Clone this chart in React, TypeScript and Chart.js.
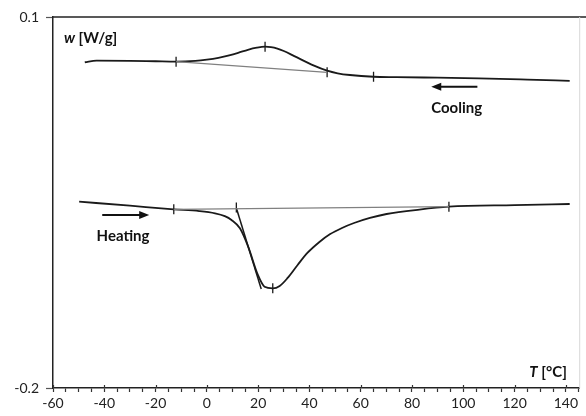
import React, { useEffect, useRef } from 'react';
import { Chart, registerables } from 'chart.js';
Chart.register(...registerables);

// Cooling curve (upper)
const coolingT = [-47.6, -43, -30, -20, -12, -4.5, 0, 4.5, 8.3, 12.2, 16, 19.5, 22.7, 25, 27.5, 30, 34.1, 41.8, 46.9, 51, 55.8, 65.0, 74.0, 90, 106, 125, 141.5];
const coolingW = [0.0634, 0.0647, 0.0646, 0.0642, 0.0639, 0.0645, 0.0655, 0.0670, 0.0688, 0.0710, 0.0735, 0.0752, 0.0760, 0.0757, 0.0745, 0.0725, 0.0684, 0.0607, 0.0566, 0.0545, 0.0531, 0.0517, 0.0514, 0.0509, 0.0504, 0.0494, 0.0484];
// Cooling baseline (grey)
const coolBaseT = [-12.0, 46.9];
const coolBaseW = [0.0639, 0.0552];

// Heating curve (lower)
const heatingT = [-49.8, -30, -12.9, -3, 3.2, 7, 9.6, 12.9, 16.1, 19.9, 22.5, 25.7, 28.4, 31.5, 35.4, 39.2, 43.9, 48.1, 52.7, 57.4, 63.6, 70.1, 82.9, 94.4, 120, 141.5];
const heatingW = [-0.0493, -0.0526, -0.0555, -0.0569, -0.0587, -0.0610, -0.0641, -0.0709, -0.0857, -0.1086, -0.1181, -0.1194, -0.1175, -0.1110, -0.1005, -0.0908, -0.0819, -0.0755, -0.0706, -0.0666, -0.0625, -0.0593, -0.0557, -0.0534, -0.0521, -0.0512];
// Heating baseline (grey)
const heatBaseT = [-12.9, 94.4];
const heatBaseW = [-0.0555, -0.0533];
// Onset tangent
const tangentT = [11.5, 21.2];
const tangentW = [-0.0545, -0.1199];

// Characteristic-point markers
const markT = [-12.0, 22.7, 46.9, 65.0, -12.9, 11.5, 25.7, 94.4];
const markW = [0.0639, 0.0760, 0.0553, 0.0517, -0.0555, -0.0540, -0.1194, -0.0534];

// Axis ticks
const xTickValues = [-60, -40, -20, 0, 20, 40, 60, 80, 100, 120, 140];
const xMinorStep = 5;
const xMinorLast = 145;
const yTickValues = [-0.2, 0.1];

// Annotations
const coolArrow = [105.5, 87.5, 0.0436]; // tail x, head x, y
const heatArrow = [-40.8, -22.5, -0.0601];
const coolLabel = ['Cooling', 87.5, 0.0264];
const heatLabel = ['Heating', -43.0, -0.0771];
const yTitlePos = [-55.75, 0.083];
const xTitlePos = [140.4, -0.1871];

const FONT = 'Lato, "Open Sans", sans-serif';

const pts = (xs: number[], ys: number[]) => xs.map((x, i) => ({ x, y: ys[i] }));

const annotate = {
  id: 'annotate',
  afterDraw(chart: any) {
    const { ctx, chartArea, scales } = chart;
    const xs = scales.x, ys = scales.y;
    ctx.save();
    // frame: top dark, right faint
    ctx.strokeStyle = '#222';
    ctx.lineWidth = 1.5;
    ctx.beginPath();
    ctx.moveTo(chartArea.left, chartArea.top);
    ctx.lineTo(chart.width, chartArea.top);
    ctx.stroke();
    ctx.strokeStyle = '#d8d8d8';
    ctx.lineWidth = 1;
    ctx.beginPath();
    ctx.moveTo(chartArea.right, chartArea.top);
    ctx.lineTo(chartArea.right, chartArea.bottom);
    ctx.stroke();
    // major ticks crossing the x axis
    ctx.strokeStyle = '#333';
    ctx.lineWidth = 1.2;
    xTickValues.forEach((v) => {
      const px = Math.round(xs.getPixelForValue(v)) + 0.5;
      ctx.beginPath();
      ctx.moveTo(px, chartArea.bottom - 3);
      ctx.lineTo(px, chartArea.bottom);
      ctx.stroke();
    });
    // arrows
    const arrow = (a: number[]) => {
      const x1 = xs.getPixelForValue(a[0]);
      const x2 = xs.getPixelForValue(a[1]);
      const y = ys.getPixelForValue(a[2]);
      const dir = x2 > x1 ? 1 : -1;
      ctx.strokeStyle = '#111';
      ctx.fillStyle = '#111';
      ctx.lineWidth = 1.8;
      ctx.beginPath();
      ctx.moveTo(x1, y);
      ctx.lineTo(x2 - dir * 8, y);
      ctx.stroke();
      ctx.beginPath();
      ctx.moveTo(x2, y);
      ctx.lineTo(x2 - dir * 10, y - 4);
      ctx.lineTo(x2 - dir * 10, y + 4);
      ctx.closePath();
      ctx.fill();
    };
    arrow(coolArrow as number[]);
    arrow(heatArrow as number[]);
    // labels
    ctx.fillStyle = '#111';
    ctx.textBaseline = 'middle';
    ctx.textAlign = 'left';
    ctx.font = `bold 15px ${FONT}`;
    ctx.fillText(coolLabel[0] as string, xs.getPixelForValue(coolLabel[1] as number), ys.getPixelForValue(coolLabel[2] as number));
    ctx.fillText(heatLabel[0] as string, xs.getPixelForValue(heatLabel[1] as number), ys.getPixelForValue(heatLabel[2] as number));
    // y title: w [W/g]
    let tx = xs.getPixelForValue(yTitlePos[0]);
    const ty = ys.getPixelForValue(yTitlePos[1]);
    ctx.font = `italic bold 15px ${FONT}`;
    ctx.fillText('w', tx, ty);
    tx += ctx.measureText('w').width;
    ctx.font = `bold 15px ${FONT}`;
    ctx.fillText(' [W/g]', tx, ty);
    // x title: T [°C], right aligned
    const rx = xs.getPixelForValue(xTitlePos[0]);
    const ry = ys.getPixelForValue(xTitlePos[1]);
    ctx.font = `bold 15px ${FONT}`;
    const rest = ' [°C]';
    const rw = ctx.measureText(rest).width;
    ctx.fillText(rest, rx - rw, ry);
    ctx.font = `italic bold 15px ${FONT}`;
    const tw = ctx.measureText('T').width;
    ctx.fillText('T', rx - rw - tw, ry);
    ctx.restore();
  },
};

export default function App() {
  const ref = useRef<HTMLCanvasElement>(null);
  useEffect(() => {
    const canvas = ref.current!;
    const line = (data: any[], color: string, width: number, tension: number) => ({
      data,
      showLine: true,
      borderColor: color,
      borderWidth: width,
      pointRadius: 0,
      pointHoverRadius: 0,
      fill: false,
      tension,
      cubicInterpolationMode: tension > 0 ? 'monotone' : 'default',
    });
    const chart = new Chart(canvas, {
      type: 'scatter',
      data: {
        datasets: [
          line(pts(coolBaseT, coolBaseW), '#808080', 1.3, 0) as any,
          line(pts(heatBaseT, heatBaseW), '#808080', 1.3, 0) as any,
          line(pts(coolingT, coolingW), '#1a1a1a', 1.8, 0.4) as any,
          line(pts(heatingT, heatingW), '#1a1a1a', 1.8, 0.4) as any,
          line(pts(tangentT, tangentW), '#1a1a1a', 1.5, 0) as any,
          {
            data: pts(markT, markW),
            showLine: false,
            pointStyle: 'line',
            rotation: 90,
            pointRadius: 5,
            pointBorderWidth: 1.3,
            borderColor: '#1a1a1a',
            backgroundColor: '#1a1a1a',
          } as any,
        ],
      },
      options: {
        animation: false,
        responsive: true,
        maintainAspectRatio: false,
        events: [],
        layout: { padding: { left: 0, top: 17, right: 1, bottom: 0 } },
        plugins: { legend: { display: false }, tooltip: { enabled: false } },
        scales: {
          x: {
            type: 'linear',
            min: -60,
            max: 145.4,
            afterBuildTicks: (s: any) => {
              const t: any[] = [];
              for (let v = xTickValues[0]; v <= xMinorLast; v += xMinorStep) t.push({ value: v });
              s.ticks = t;
            },
            afterFit: (s: any) => { s.height = 28; },
            ticks: {
              autoSkip: false,
              maxRotation: 0,
              padding: 3,
              color: '#222',
              font: { family: FONT, size: 14 },
              callback: (v: any) => (xTickValues.includes(Number(v)) ? String(v) : ''),
            },
            grid: { drawOnChartArea: false, tickLength: 4, tickColor: '#333', tickWidth: 1.2 },
            border: { display: true, color: '#222', width: 1.5 },
          },
          y: {
            type: 'linear',
            min: -0.2,
            max: 0.1,
            afterBuildTicks: (s: any) => { s.ticks = yTickValues.map((v) => ({ value: v })); },
            afterFit: (s: any) => { s.width = 53; },
            ticks: {
              padding: 7,
              color: '#222',
              font: { family: FONT, size: 14 },
              callback: (v: any) => String(Math.round(Number(v) * 10) / 10),
            },
            grid: { drawOnChartArea: false, tickLength: 7, tickColor: '#555', tickWidth: 1.2 },
            border: { display: true, color: '#222', width: 1.5 },
          },
        },
      },
      plugins: [annotate],
    });
    return () => chart.destroy();
  }, []);
  return (
    <div style={{ position: 'absolute', left: 0, top: 0, width: 586, height: 416, background: '#fff' }}>
      <canvas ref={ref} />
    </div>
  );
}
